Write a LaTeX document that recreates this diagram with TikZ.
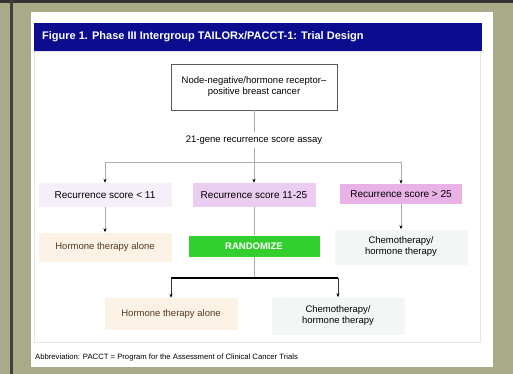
\documentclass[tikz,border=0pt]{standalone}
\usepackage{fontspec}
\setmainfont{Liberation Sans}
\usetikzlibrary{positioning, arrows.meta}
\definecolor{frameolive}{HTML}{A9AB88}
\definecolor{titleblue}{HTML}{0B0D8E}
\definecolor{lowlav}{HTML}{F4EFF8}
\definecolor{midpink}{HTML}{EACDF0}
\definecolor{highpink}{HTML}{E8B2E6}
\definecolor{peach}{HTML}{FBF1E5}
\definecolor{randgreen}{HTML}{33CF2E}
\definecolor{chemogrey}{HTML}{F2F6F5}

\begin{document}
\begin{tikzpicture}[x=1pt, y=-1pt, font=\fontsize{9.5}{11}\selectfont,
    box/.style={minimum width=133pt, minimum height=26pt, align=center, inner sep=1pt},
    link/.style={gray!65, line width=0.6pt},
    arr/.style={link, -{Stealth[length=4pt, width=3pt, black]}}]
        \useasboundingbox (0,0) rectangle (513,374);
        % frame and title bar
        \fill[frameolive] (0,0) rectangle (513,374);
        \fill[black!80] (0,0) rectangle (513,3);
        \fill[black!75] (10,0) rectangle (13,374);
        \fill[white] (31,12) rectangle (493,367);
        \draw[gray!20] (34,51) rectangle (480,342);
        \node (titlebar) [fill=titleblue, minimum width=448pt, minimum height=28pt, inner sep=0pt, anchor=north west] at (34,23) {};
        \node (title) [anchor=west, inner sep=0pt, text=white, font=\bfseries\fontsize{11}{13}\selectfont] at (42,37) {Figure 1. Phase III Intergroup TAILORx/PACCT-1: Trial Design};
        % flow
        \node (cancer) [draw=gray!70!black, minimum width=166pt, minimum height=46pt, align=center] at (254,87) {Node-negative/hormone receptor--\\positive breast cancer};
        \node (assay) [below=22pt of cancer] {21-gene recurrence score assay};
        \coordinate (split) at (254,162);
        \node (low) [box, fill=lowlav, minimum height=24pt, font=\fontsize{10}{12}\selectfont] at (105,195) {Recurrence score < 11};
        \node (mid) [box, fill=midpink, minimum width=123pt, minimum height=24pt, font=\fontsize{10}{12}\selectfont] at (254,195) {Recurrence score 11-25};
        \node (high) [box, fill=highpink, minimum width=122pt, minimum height=20pt, font=\fontsize{10}{12}\selectfont] at (401,194) {Recurrence score > 25};
        \node (hormA) [box, fill=peach, text=brown!45!black, minimum height=29pt] at (105,247) {Hormone therapy alone};
        \node (rand) [box, fill=randgreen, text=white, font=\bfseries\fontsize{9.5}{11}\selectfont, minimum width=131pt, minimum height=21pt] at (254,246) {RANDOMIZE};
        \node (chemoA) [box, fill=chemogrey, minimum height=35pt] at (401,247) {Chemotherapy/\\hormone therapy};
        \coordinate (bar) at (254,278);
        \node (hormB) [box, fill=peach, text=brown!45!black, minimum height=32pt] at (171,314) {Hormone therapy alone};
        \node (chemoB) [box, fill=chemogrey, minimum height=37pt] at (338,316) {Chemotherapy/\\hormone therapy};
        \draw[link] (cancer) -- (assay);
        \draw[link] (assay) -- (split);
        \draw[link] (low.north |- split) -- (high.north |- split);
        \draw[arr] (low.north |- split) -- (low);
        \draw[arr] (split) -- (mid);
        \draw[arr] (high.north |- split) -- (high);
        \draw[arr] (low) -- (hormA);
        \draw[arr] (high) -- (chemoA);
        \draw[link] (mid) -- (rand);
        \draw[link] (rand) -- (bar);
        \draw[line width=1.4pt] (hormB.north |- bar) -- (chemoB.north |- bar);
        \draw[arr, black!80] (hormB.north |- bar) -- (hormB);
        \draw[arr, black!80] (chemoB.north |- bar) -- (chemoB);
        \node (abbrev) [anchor=west, inner sep=0pt, font=\fontsize{7.7}{9}\selectfont] at (35,358) {Abbreviation: PACCT = Program for the Assessment of Clinical Cancer Trials};
    \end{tikzpicture}
\end{document}
